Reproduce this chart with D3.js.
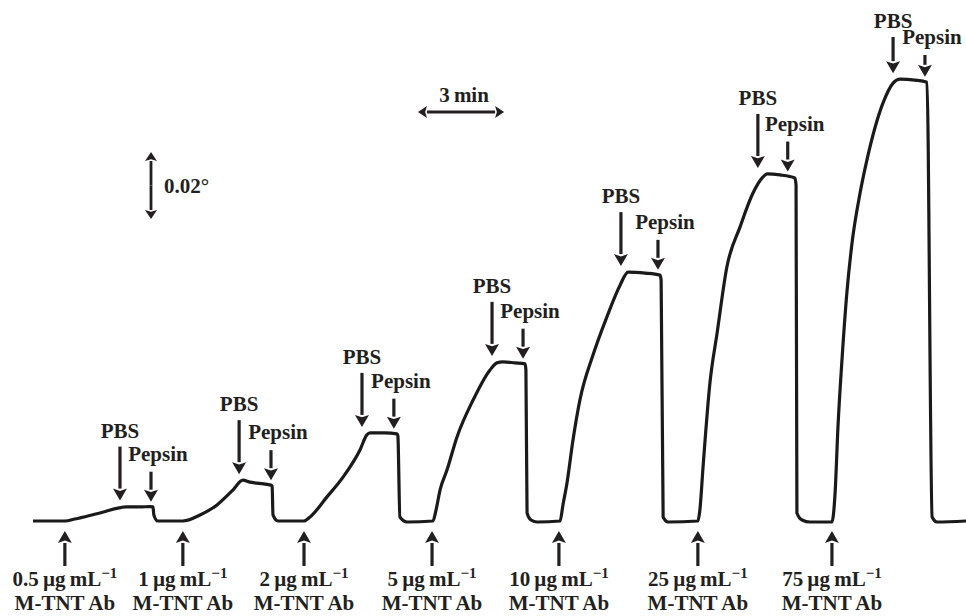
<!DOCTYPE html>
<html>
<head>
<meta charset="utf-8">
<script src="https://cdn.jsdelivr.net/npm/d3@7"></script>
<style>
  html, body { margin: 0; padding: 0; background: #fff; }
  text { font-family: "Liberation Serif", "Times New Roman", serif; font-weight: bold; fill: #231f20; }
</style>
</head>
<body>
<div id="chart"></div>
<script>
// SPR angle shift trace: time (min) and signal (millidegrees)
const traceTime = [
  0, 1.11, 1.46, 2.33, 3.27, 3.73, 4.08, 4.18, 4.21, 4.35, 5.22,
  5.82, 6.41, 6.97, 7.31, 7.56, 7.80, 8.29, 8.33, 8.36, 8.53, 9.44,
  9.65, 10.24, 10.80, 11.39, 11.63, 11.74, 12.26, 12.68, 12.71, 12.78, 13.03, 13.93,
  14.04, 14.18, 14.42, 14.77, 15.33, 15.92, 16.16, 16.37, 16.79, 17.14, 17.17, 17.21, 17.35, 17.56, 18.36,
  18.46, 18.60, 18.81, 19.05, 19.51, 19.99, 20.45, 20.73, 21.32, 21.84, 21.88, 21.95, 22.12, 23.16,
  23.23, 23.34, 23.58, 23.83, 24.17, 24.63, 25.08, 25.43, 25.57, 26.02, 26.54, 26.58, 26.61, 26.79, 27.07, 27.83,
  27.94, 28.04, 28.18, 28.35, 28.53, 28.81, 29.05, 29.61, 29.96, 30.20, 30.72, 31.14, 31.32, 31.49, 32.5
];
const traceSignal = [
  0, 0, 0.6, 2.4, 4.2, 4.2, 4.3, 4.2, 1.8, 0, 0,
  1.8, 4.8, 9.3, 12.2, 11.6, 11.3, 10.7, 10.4, 1.8, 0, 0,
  1.2, 7.2, 13.1, 21.2, 25.7, 26.3, 26.3, 26.0, 25.4, 1.2, -0.3, 0,
  3.3, 9.3, 15.2, 25.1, 36.1, 45.1, 47.2, 47.5, 47.2, 46.9, 45.1, 2.4, 0.3, -0.3, 0,
  4.8, 11.3, 24.2, 36.1, 49.6, 60.9, 70.4, 74.3, 74.0, 73.4, 71.9, 1.2, -0.3, 0,
  3.3, 16.1, 41.2, 56.1, 75.8, 87.8, 97.9, 102.7, 103.6, 103.3, 102.4, 100.3, 2.4, 0.3, -0.3, -0.3,
  8.4, 28.1, 48.1, 68.1, 83.0, 97.9, 107.8, 124.8, 130.7, 131.9, 131.6, 131.0, 1.2, -0.3, 0
];

// injection events
const injectTimes = [1.11, 5.22, 9.44, 13.90, 18.32, 23.16, 27.83];
const concLabels = ['0.5', '1', '2', '5', '10', '25', '75'];
const pbsTimes = [3.03, 7.18, 11.46, 15.99, 20.48, 25.25, 29.96];
const pepsinTimes = [4.11, 8.29, 12.57, 17.07, 21.77, 26.29, 31.07];

// scale bars
const timeBar = { start: 13.41, length: 3, label: '3\u2009min' };
const angleBar = { length: 20, label: '0.02°' };

const ink = '#231f20';
const width = 966, height = 616;

const svg = d3.select('#chart').append('svg')
  .attr('width', width)
  .attr('height', height);

const x = d3.scaleLinear().domain([0, 32.5]).range([33, 966]);
const y = d3.scaleLinear().domain([0, 135]).range([521, 68.75]);

const trace = traceTime.map((t, i) => ({ t: t, v: traceSignal[i] }));
const bisect = d3.bisector(d => d.t).left;
function valueAt(t) {
  const i = Math.max(1, Math.min(trace.length - 1, bisect(trace, t)));
  const a = trace[i - 1], b = trace[i];
  return a.v + (b.v - a.v) * (t - a.t) / (b.t - a.t);
}

// the trace
svg.append('path')
  .datum(trace)
  .attr('fill', 'none')
  .attr('stroke', '#1a1a1a')
  .attr('stroke-width', 3.2)
  .attr('stroke-linejoin', 'round')
  .attr('d', d3.line()
    .x(d => x(d.t))
    .y(d => y(d.v))
    .curve(d3.curveMonotoneX));

function arrow(g, x1, y1, x2, y2, hl, hw, sw) {
  const a = Math.atan2(y2 - y1, x2 - x1);
  const bx = x2 - hl * Math.cos(a), by = y2 - hl * Math.sin(a);
  g.append('line')
    .attr('x1', x1).attr('y1', y1).attr('x2', bx).attr('y2', by)
    .attr('stroke', ink).attr('stroke-width', sw);
  const px = -Math.sin(a) * hw / 2, py = Math.cos(a) * hw / 2;
  g.append('path')
    .attr('d', `M${x2},${y2}L${bx + px},${by + py}L${bx + 0.2 * hl * Math.cos(a)},${by + 0.2 * hl * Math.sin(a)}L${bx - px},${by - py}Z`)
    .attr('fill', ink);
}

const notes = svg.append('g');

// injection arrows and concentration labels
injectTimes.forEach((t, i) => {
  const cx = x(t);
  arrow(notes, cx, 566, cx, 531, 12, 14, 3.2);
  const lab = notes.append('text')
    .attr('x', cx).attr('y', 586)
    .attr('text-anchor', 'middle')
    .style('font-size', '21px');
  lab.append('tspan').text(concLabels[i] + '\u2009\u00b5g\u2009mL');
  lab.append('tspan').attr('dy', -8).style('font-size', '15px').text('\u22121');
  notes.append('text')
    .attr('x', cx).attr('y', 610)
    .attr('text-anchor', 'middle')
    .style('font-size', '21px')
    .text('M-TNT Ab');
});

// PBS arrows
pbsTimes.forEach((t, i) => {
  const cx = x(t);
  const top = d3.max(trace.filter(d => d.t > injectTimes[i] && d.t < pepsinTimes[i]), d => d.v);
  const tip = y(top) - 6;
  const tail = Math.max(tip - 54, 37);
  arrow(notes, cx, tail, cx, tip, 12, 14, 3.2);
  notes.append('text')
    .attr('x', cx).attr('y', tail - 9)
    .attr('text-anchor', 'middle')
    .style('font-size', '21px')
    .text('PBS');
});

// Pepsin arrows
pepsinTimes.forEach((t, i) => {
  const cx = x(t);
  const tip = y(valueAt(t)) - 5;
  const tail = Math.max(tip - 30, 55);
  arrow(notes, cx, tail, cx, tip, 12, 14, 3.2);
  notes.append('text')
    .attr('x', cx + 7).attr('y', tail - 11)
    .attr('text-anchor', 'middle')
    .style('font-size', '21px')
    .text('Pepsin');
});

// time scale bar
const tx0 = x(timeBar.start), tx1 = x(timeBar.start + timeBar.length);
arrow(notes, (tx0 + tx1) / 2, 112, tx1, 112, 9, 12, 2.8);
arrow(notes, (tx0 + tx1) / 2, 112, tx0, 112, 9, 12, 2.8);
notes.append('text')
  .attr('x', (tx0 + tx1) / 2 + 3).attr('y', 102)
  .attr('text-anchor', 'middle')
  .style('font-size', '21px')
  .text(timeBar.label);

// angle scale bar
const barLen = y(0) - y(angleBar.length);
const ay0 = 152, ay1 = ay0 + barLen;
arrow(notes, 151, (ay0 + ay1) / 2, 151, ay0, 9, 12, 2.8);
arrow(notes, 151, (ay0 + ay1) / 2, 151, ay1, 9, 12, 2.8);
notes.append('text')
  .attr('x', 164).attr('y', 193)
  .style('font-size', '21px')
  .text(angleBar.label);
</script>
</body>
</html>
